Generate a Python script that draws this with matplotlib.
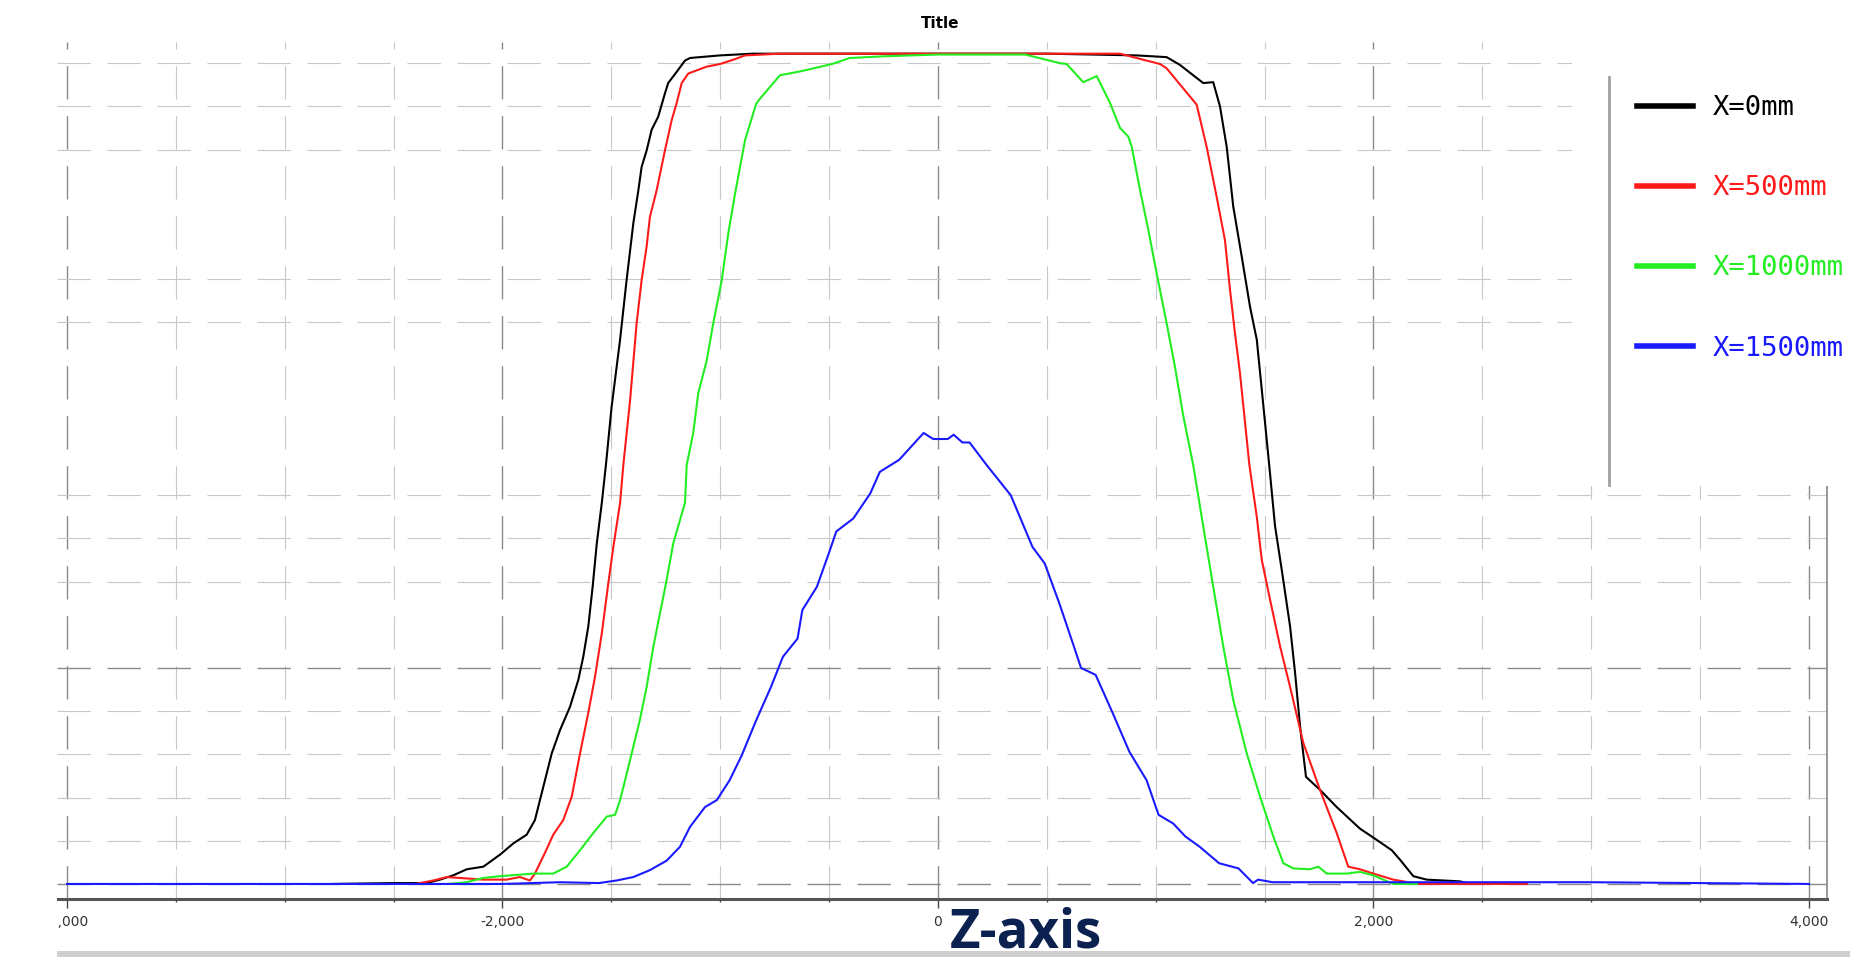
import matplotlib
matplotlib.use('Agg')
import matplotlib.pyplot as plt
from matplotlib.patches import Rectangle
from matplotlib.lines import Line2D
from matplotlib.ticker import FixedLocator, FuncFormatter

plt.rcParams['lines.scale_dashes'] = False

# ---- data (z position vs. normalised intensity) ----
z_black = [-2780, -2500, -2348, -2287, -2226, -2164, -2088, -2011, -1950, -1889, -1851,
           -1805, -1774, -1736, -1690, -1652, -1629, -1606, -1586, -1567, -1544, -1525,
           -1499, -1460, -1430, -1399, -1376, -1361, -1338, -1315, -1285, -1254, -1239,
           -1200, -1162, -1139, -1001, -850, -500, 0, 500, 912, 1050, 1111, 1218, 1264,
           1295, 1326, 1356, 1395, 1433, 1464, 1487, 1521, 1548, 1579, 1617, 1640, 1663,
           1690, 1754, 1831, 1938, 2015, 2084, 2122, 2183, 2244, 2397, 2450]
i_black = [0.0, 0.001, 0.001, 0.005, 0.010, 0.017, 0.020, 0.034, 0.047, 0.057, 0.074,
           0.120, 0.151, 0.178, 0.205, 0.236, 0.263, 0.298, 0.344, 0.394, 0.441, 0.485,
           0.552, 0.630, 0.699, 0.765, 0.803, 0.830, 0.849, 0.873, 0.888, 0.915, 0.927,
           0.940, 0.953, 0.956, 0.959, 0.961, 0.961, 0.961, 0.961, 0.959, 0.957, 0.948,
           0.927, 0.928, 0.900, 0.853, 0.784, 0.726, 0.668, 0.630, 0.572, 0.485, 0.414,
           0.363, 0.298, 0.244, 0.182, 0.124, 0.109, 0.089, 0.064, 0.051, 0.039, 0.028,
           0.009, 0.005, 0.003, 0.0]

z_red = [-2400, -2318, -2256, -2088, -1981, -1920, -1874, -1851, -1805, -1767, -1721,
         -1682, -1644, -1606, -1575, -1544, -1514, -1491, -1460, -1445, -1414, -1384,
         -1361, -1338, -1323, -1292, -1254, -1223, -1200, -1177, -1147, -1062, -1001,
         -940, -886, -726, 0, 836, 912, 1020, 1050, 1188, 1234, 1280, 1318, 1341, 1364,
         1387, 1430, 1464, 1487, 1525, 1571, 1617, 1678, 1754, 1831, 1884, 1938, 1999,
         2091, 2137, 2200, 2705]
i_red = [0.0, 0.004, 0.008, 0.005, 0.005, 0.008, 0.004, 0.012, 0.036, 0.057, 0.074,
         0.101, 0.151, 0.198, 0.240, 0.290, 0.348, 0.390, 0.441, 0.485, 0.560, 0.649,
         0.699, 0.738, 0.772, 0.803, 0.849, 0.884, 0.904, 0.927, 0.938, 0.946, 0.949,
         0.954, 0.959, 0.961, 0.961, 0.961, 0.956, 0.949, 0.944, 0.902, 0.853, 0.795,
         0.745, 0.688, 0.637, 0.591, 0.485, 0.425, 0.375, 0.329, 0.275, 0.228, 0.163,
         0.109, 0.059, 0.020, 0.017, 0.012, 0.005, 0.003, 0.0, 0.0]

z_green = [-2250, -2165, -2088, -2011, -1859, -1767, -1705, -1644, -1583, -1521, -1483,
           -1460, -1437, -1399, -1369, -1338, -1307, -1277, -1246, -1216, -1193, -1162,
           -1154, -1124, -1101, -1062, -1032, -993, -963, -932, -909, -886, -835, -817,
           -726, -623, -487, -406, -243, 0, 400, 560, 591, 667, 729, 790, 836, 874, 890,
           928, 966, 1004, 1050, 1088, 1127, 1172, 1218, 1264, 1310, 1356, 1418, 1479,
           1540, 1586, 1632, 1708, 1747, 1785, 1877, 1938, 1999, 2045, 2091, 2200]
i_green = [0.0, 0.002, 0.007, 0.009, 0.012, 0.012, 0.020, 0.039, 0.059, 0.078, 0.080,
           0.097, 0.120, 0.159, 0.190, 0.228, 0.275, 0.313, 0.352, 0.394, 0.414, 0.441,
           0.485, 0.522, 0.568, 0.606, 0.649, 0.699, 0.753, 0.799, 0.830, 0.861, 0.903,
           0.909, 0.936, 0.941, 0.949, 0.956, 0.958, 0.960, 0.960, 0.950, 0.949, 0.928,
           0.935, 0.904, 0.875, 0.865, 0.853, 0.803, 0.757, 0.707, 0.649, 0.599, 0.541,
           0.485, 0.414, 0.344, 0.275, 0.213, 0.151, 0.101, 0.055, 0.024, 0.018, 0.017,
           0.020, 0.012, 0.012, 0.014, 0.010, 0.005, 0.0, 0.0]

z_blue = [-4000, -3000, -2000, -1736, -1558, -1476, -1399, -1323, -1246, -1185, -1139,
          -1070, -1016, -957, -901, -834, -767, -712, -645, -623, -556, -501, -467, -389,
          -311, -267, -178, -66, -22, 45, 72, 112, 145, 223, 334, 434, 490, 557, 624, 657,
          724, 802, 879, 958, 1013, 1080, 1136, 1202, 1291, 1380, 1447, 1470, 1537, 2000,
          3000, 4000]
i_blue = [0.0, 0.0, 0.0, 0.002, 0.001, 0.004, 0.008, 0.016, 0.027, 0.043, 0.066,
          0.089, 0.097, 0.120, 0.149, 0.190, 0.228, 0.263, 0.284, 0.317, 0.344, 0.383,
          0.408, 0.423, 0.452, 0.477, 0.491, 0.522, 0.515, 0.515, 0.520, 0.511, 0.511,
          0.485, 0.450, 0.390, 0.371, 0.325, 0.275, 0.250, 0.242, 0.198, 0.153, 0.120,
          0.080, 0.070, 0.055, 0.043, 0.024, 0.018, 0.001, 0.005, 0.002, 0.002, 0.002, 0.0]

series_labels = ['X=0mm', 'X=500mm', 'X=1000mm', 'X=1500mm']
series_colors = ['#000000', '#ff1a1a', '#22ee22', '#1a1aff']

x_major = [-4000, -2000, 0, 2000, 4000]
x_minor = [-3500, -3000, -2500, -1500, -1000, -500, 500, 1000, 1500, 2500, 3000, 3500]
y_major = [0.0, 0.25]
y_minor = [0.05, 0.10, 0.15, 0.20, 0.35, 0.40, 0.45, 0.65, 0.70, 0.85, 0.90, 0.95]

# ---- figure ----
fig = plt.figure(figsize=(18.5, 9.58), dpi=100)
ax = fig.add_axes([0.0308, 0.0616, 0.9568, 0.895])

for z, i, lab, col in zip([z_black, z_red, z_green, z_blue],
                          [i_black, i_red, i_green, i_blue],
                          series_labels, series_colors):
    ax.plot(z, i, color=col, lw=1.5, label=lab)

ax.set_xlim(-4046, 4083)
ax.set_ylim(-0.0174, 0.975)

ax.xaxis.set_major_locator(FixedLocator(x_major))
ax.xaxis.set_minor_locator(FixedLocator(x_minor))
ax.xaxis.set_major_formatter(FuncFormatter(lambda v, p: f'{v:,.0f}'))
ax.yaxis.set_major_locator(FixedLocator(y_major))
ax.yaxis.set_minor_locator(FixedLocator(y_minor))

ax.tick_params(axis='y', which='both', length=0, labelleft=False)
ax.tick_params(axis='x', which='major', length=6.5, width=1, color='#444444',
               labelsize=10, labelcolor='#333333', pad=5)
ax.tick_params(axis='x', which='minor', length=2.5, width=1, color='#444444')

# dashed grid, darker at major positions
dash = (0, (24, 12))
ax.grid(which='major', color='#8a8a8a', lw=1.0, ls=dash)
ax.grid(which='minor', color='#c8c8c8', lw=0.8, ls=dash)
ax.set_axisbelow(True)

ax.spines['top'].set_visible(False)
ax.spines['left'].set_visible(False)
ax.spines['bottom'].set_color('#555555')
ax.spines['bottom'].set_linewidth(2.2)
ax.spines['right'].set_color('#888888')
ax.spines['right'].set_linewidth(1.2)

# title at the very top
fig.text(0.508, 1 - 24 / 958, 'Title', ha='center', va='center',
         fontsize=11, fontweight='bold')

# white panel behind the legend, with a grey rule on its left
fig.add_artist(Rectangle((1572 / 1850, 1 - 486 / 958), 1 - 1572 / 1850, 486 / 958,
                         transform=fig.transFigure, facecolor='white',
                         edgecolor='none', zorder=3))
fig.add_artist(Line2D([1609 / 1850, 1609 / 1850], [1 - 77 / 958, 1 - 485 / 958],
                      transform=fig.transFigure, color='#a0a0a0', lw=2, zorder=4))

# blank strip on the left and grey band at the bottom
fig.add_artist(Rectangle((0, 0), 57 / 1850, 1, transform=fig.transFigure,
                         facecolor='white', edgecolor='none', zorder=3))
fig.add_artist(Rectangle((57 / 1850, 1 - 957 / 958), 1 - 57 / 1850, 6 / 958,
                         transform=fig.transFigure, facecolor='#cfcfcf',
                         edgecolor='none', zorder=3))

leg = fig.legend(loc='upper left', bbox_to_anchor=(1637 / 1850, 1 - 95 / 958),
                 frameon=False, prop={'family': 'DejaVu Sans Mono', 'size': 19.5},
                 labelcolor='linecolor', handlelength=2.07, handletextpad=0.74,
                 labelspacing=2.0, borderpad=0, borderaxespad=0)
for h in leg.legend_handles:
    h.set_linewidth(4)

fig.text(950 / 1850, 1 - 947 / 958, 'Z-axis', ha='left', va='baseline',
         fontsize=38, fontweight='bold', family='Open Sans', color='#0b2150')

fig.savefig('out.png', dpi=100)
